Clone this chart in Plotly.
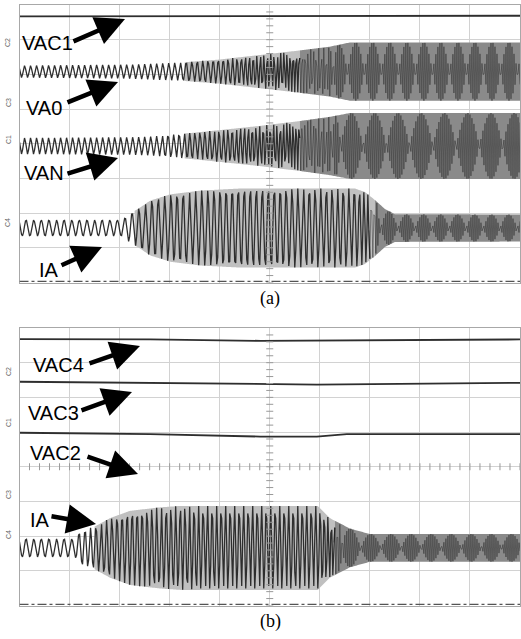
import numpy as np
import plotly.graph_objects as go

# ---------------- data (oscilloscope divisions: x 0..10, y -4..4) ----------------
# Panel (a)
vac1_t = [0.0, 7.30, 7.46, 10.0]
vac1_y = [3.67, 3.67, 3.69, 3.69]

va0_center = 2.08
va0_env_t = [0.0, 2.21, 3.21, 4.01, 4.81, 5.60, 6.20, 6.60, 10.0]
va0_env_a = [0.17, 0.20, 0.26, 0.35, 0.48, 0.61, 0.72, 0.84, 0.84]
va0_per_t = [0.0, 3.01, 4.01, 4.81, 5.60, 6.40, 10.0]
va0_per = [0.12, 0.12, 0.10, 0.07, 0.06, 0.0425, 0.0425]

van_center = -0.065
van_env_t = [0.0, 2.21, 2.61, 3.61, 4.81, 5.60, 6.20, 6.60, 10.0]
van_env_a = [0.23, 0.25, 0.27, 0.40, 0.58, 0.72, 0.84, 0.95, 0.95]
van_per_t = [0.0, 2.61, 3.61, 4.81, 5.60, 6.50, 10.0]
van_per = [0.12, 0.12, 0.10, 0.072, 0.06, 0.0418, 0.0418]

ia_a_center = -2.43
ia_a_env_t = [0.0, 2.05, 2.21, 2.41, 2.61, 3.01, 3.61, 4.41, 6.70, 6.90, 7.10, 7.30, 7.50, 10.0]
ia_a_env_a = [0.23, 0.23, 0.42, 0.59, 0.79, 0.97, 1.08, 1.14, 1.14, 1.04, 0.81, 0.55, 0.40, 0.39]
ia_a_per_t = [0.0, 2.05, 2.31, 3.01, 4.81, 6.70, 7.20, 10.0]
ia_a_per = [0.152, 0.152, 0.134, 0.124, 0.12, 0.11, 0.0425, 0.0425]

# Panel (b)
vac4_t = [0.0, 2.61, 4.81, 6.0, 10.0]
vac4_y = [3.68, 3.67, 3.63, 3.64, 3.67]
vac3_t = [0.0, 2.61, 4.81, 5.94, 10.0]
vac3_y = [2.45, 2.41, 2.39, 2.37, 2.42]
vac2_t = [0.0, 2.61, 4.81, 5.94, 6.54, 10.0]
vac2_y = [0.98, 0.94, 0.87, 0.87, 0.94, 0.94]

ia_b_center = -2.34
ia_b_env_t = [0.0, 1.11, 1.21, 1.51, 1.81, 2.21, 2.81, 3.21, 5.96, 6.20, 6.60, 7.00, 10.0]
ia_b_env_a = [0.26, 0.26, 0.48, 0.62, 0.86, 1.07, 1.17, 1.21, 1.21, 0.86, 0.56, 0.40, 0.40]
ia_b_per_t = [0.0, 1.11, 1.31, 2.21, 3.61, 5.96, 6.50, 10.0]
ia_b_per = [0.152, 0.152, 0.11, 0.10, 0.09, 0.09, 0.0421, 0.0421]

labels_a = ["VAC1", "VA0", "VAN", "IA"]
labels_b = ["VAC4", "VAC3", "VAC2", "IA"]
chan_a = ["C2", "C3", "C1", "C4"]
chan_b = ["C2", "C1", "C3", "C4"]
captions = ["(a)", "(b)"]

# ---------------- layout geometry (page pixels) ----------------
W, H = 521, 639
PX0, PX1 = 19.5, 520.0
A_TOP, A_BOT = 5.0, 282.5
B_TOP, B_BOT = 328.0, 605.5
STEP = 0.02
T = np.arange(0, 10 + STEP / 2, STEP)


def fx(px):
    return px / W


def fy(py):
    return 1 - py / H


def wave(center, env_t, env_a, per_t, per):
    amp = np.interp(T, env_t, env_a)
    period = np.interp(T, per_t, per)
    phase = 2 * np.pi * np.cumsum(STEP / period)
    return center + amp * np.cos(phase)


def band(center, env_t, env_a, x0, x1):
    m = (T >= x0 - 1e-9) & (T <= x1 + 1e-9)
    t = T[m]
    a = np.interp(t, env_t, env_a)
    return np.concatenate([t, t[::-1]]), np.concatenate([center + a, (center - a)[::-1]])


fig = go.Figure()
LINE = "#2e2e2e"


def add_band(center, et, ea, x0, x1, color, xa, ya):
    bx, by = band(center, et, ea, x0, x1)
    fig.add_trace(go.Scatter(x=bx, y=by, fill="toself", fillcolor=color, mode="none",
                             xaxis=xa, yaxis=ya, hoverinfo="skip", showlegend=False))


def add_wave(center, et, ea, pt, pp, split, xa, ya):
    y = wave(center, et, ea, pt, pp)
    m1 = T <= split + 1e-9
    m2 = T >= split - STEP - 1e-9
    fig.add_trace(go.Scatter(x=T[m1], y=y[m1], mode="lines", line=dict(color=LINE, width=1.3),
                             xaxis=xa, yaxis=ya, hoverinfo="skip", showlegend=False))
    fig.add_trace(go.Scatter(x=T[m2], y=y[m2], mode="lines", line=dict(color="#1e1e1e", width=0.45),
                             xaxis=xa, yaxis=ya, hoverinfo="skip", showlegend=False))


def add_flat(t, y, xa, ya):
    fig.add_trace(go.Scatter(x=t, y=y, mode="lines", line=dict(color=LINE, width=1.8),
                             xaxis=xa, yaxis=ya, hoverinfo="skip", showlegend=False))


LIGHT, MID = "#c0c0c0", "#8a8a8a"

# panel (a)
add_flat(vac1_t, vac1_y, "x", "y")
add_band(va0_center, va0_env_t, va0_env_a, 3.3, 5.6, LIGHT, "x", "y")
add_band(va0_center, va0_env_t, va0_env_a, 5.6, 10, MID, "x", "y")
add_wave(va0_center, va0_env_t, va0_env_a, va0_per_t, va0_per, 5.6, "x", "y")
add_band(van_center, van_env_t, van_env_a, 3.3, 5.6, LIGHT, "x", "y")
add_band(van_center, van_env_t, van_env_a, 5.6, 10, MID, "x", "y")
add_wave(van_center, van_env_t, van_env_a, van_per_t, van_per, 5.6, "x", "y")
add_band(ia_a_center, ia_a_env_t, ia_a_env_a, 2.3, 7.1, LIGHT, "x", "y")
add_band(ia_a_center, ia_a_env_t, ia_a_env_a, 7.1, 10, MID, "x", "y")
add_wave(ia_a_center, ia_a_env_t, ia_a_env_a, ia_a_per_t, ia_a_per, 7.0, "x", "y")

# panel (b)
add_flat(vac4_t, vac4_y, "x2", "y2")
add_flat(vac3_t, vac3_y, "x2", "y2")
add_flat(vac2_t, vac2_y, "x2", "y2")
add_band(ia_b_center, ia_b_env_t, ia_b_env_a, 1.5, 6.3, LIGHT, "x2", "y2")
add_band(ia_b_center, ia_b_env_t, ia_b_env_a, 6.3, 10, MID, "x2", "y2")
add_wave(ia_b_center, ia_b_env_t, ia_b_env_a, ia_b_per_t, ia_b_per, 6.3, "x2", "y2")

# centre graticule tick marks
ticks_y = np.arange(-4, 4.001, 0.2)
ticks_x = np.arange(0, 10.001, 0.2)
for xa, ya in (("x", "y"), ("x2", "y2")):
    fig.add_trace(go.Scatter(x=np.full_like(ticks_y, 5.0), y=ticks_y, mode="markers",
                             marker=dict(symbol="line-ew", size=5, line=dict(color="#999", width=1)),
                             xaxis=xa, yaxis=ya, hoverinfo="skip", showlegend=False))
fig.add_trace(go.Scatter(x=ticks_x, y=np.zeros_like(ticks_x), mode="markers",
                         marker=dict(symbol="line-ns", size=5, line=dict(color="#999", width=1)),
                         xaxis="x2", yaxis="y2", hoverinfo="skip", showlegend=False))

# trigger markers
fig.add_trace(go.Scatter(x=[5.05], y=[-4.11], mode="markers", cliponaxis=False,
                         marker=dict(symbol="triangle-up", size=5, color="#222"),
                         xaxis="x", yaxis="y", hoverinfo="skip", showlegend=False))
fig.add_trace(go.Scatter(x=[6.17], y=[-4.13], mode="markers", cliponaxis=False,
                         marker=dict(symbol="triangle-up", size=5, color="#222"),
                         xaxis="x2", yaxis="y2", hoverinfo="skip", showlegend=False))

ax_common = dict(range=[0, 10], dtick=1, tick0=0, showgrid=True, gridcolor="#d2d2d2", gridwidth=1,
                 showticklabels=False, ticks="", zeroline=False, showline=True,
                 linecolor="#a8a8a8", linewidth=1, mirror=True, fixedrange=True)
ay_common = dict(ax_common, range=[-4, 4])

fig.update_layout(
    width=W, height=H, margin=dict(l=0, r=0, t=0, b=0),
    paper_bgcolor="white", plot_bgcolor="white", showlegend=False,
    xaxis=dict(ax_common, domain=[fx(PX0), fx(PX1)], anchor="y"),
    yaxis=dict(ay_common, domain=[fy(A_BOT), fy(A_TOP)], anchor="x"),
    xaxis2=dict(ax_common, domain=[fx(PX0), fx(PX1)], anchor="y2"),
    yaxis2=dict(ay_common, domain=[fy(B_BOT), fy(B_TOP)], anchor="x2"),
)

# bottom dash-dot reference lines
for xr, yr in (("x", "y"), ("x2", "y2")):
    fig.add_shape(type="line", x0=0, x1=10, y0=-3.97, y1=-3.97, xref=xr, yref=yr,
                  line=dict(color="#555", width=1.2, dash="dashdot"), layer="above")

annotations = []
LABEL_FONT = dict(family="Liberation Sans, Arial, sans-serif", size=20, color="black")

# label text centre and arrow tail/tip (page pixels)
geo_a = [(47.5, 43, 72, 42, 125, 19), (43.5, 108, 66, 103, 118, 82),
         (44, 173, 66, 174, 118, 158), (49, 270, 60, 266, 102, 247)]
geo_b = [(58.5, 365, 88, 364, 140, 346), (53.5, 413, 80, 411, 132, 392),
         (55, 453, 86, 456, 138, 474), (40, 520, 50, 516, 96, 524)]
for labels, geo in ((labels_a, geo_a), (labels_b, geo_b)):
    for lab, (cx, cy, tx, ty, hx, hy) in zip(labels, geo):
        annotations.append(dict(x=fx(cx), y=fy(cy), xref="paper", yref="paper", text=lab,
                                showarrow=False, font=LABEL_FONT, xanchor="center", yanchor="middle"))
        annotations.append(dict(x=fx(hx), y=fy(hy), xref="paper", yref="paper", text="",
                                showarrow=True, ax=tx - hx, ay=ty - hy, arrowhead=2,
                                arrowwidth=4.5, arrowsize=1.3, arrowcolor="black", standoff=0))

for chans, ys in ((chan_a, [43, 103, 140, 223]), (chan_b, [372, 423, 495, 535])):
    for c, py in zip(chans, ys):
        annotations.append(dict(x=fx(8), y=fy(py), xref="paper", yref="paper", text=c,
                                textangle=-90, showarrow=False, xanchor="center", yanchor="middle",
                                font=dict(family="Liberation Sans, Arial", size=7, color="#666")))

for cap, py in zip(captions, [298, 621]):
    annotations.append(dict(x=fx(270), y=fy(py), xref="paper", yref="paper", text=cap,
                            showarrow=False, xanchor="center", yanchor="middle",
                            font=dict(family="Liberation Serif, Times New Roman, serif",
                                      size=18, color="black")))

fig.update_layout(annotations=annotations)
fig.write_html("out.html", config={"displayModeBar": False},
               post_script="document.body.style.margin='0';document.body.style.overflow='hidden';")
